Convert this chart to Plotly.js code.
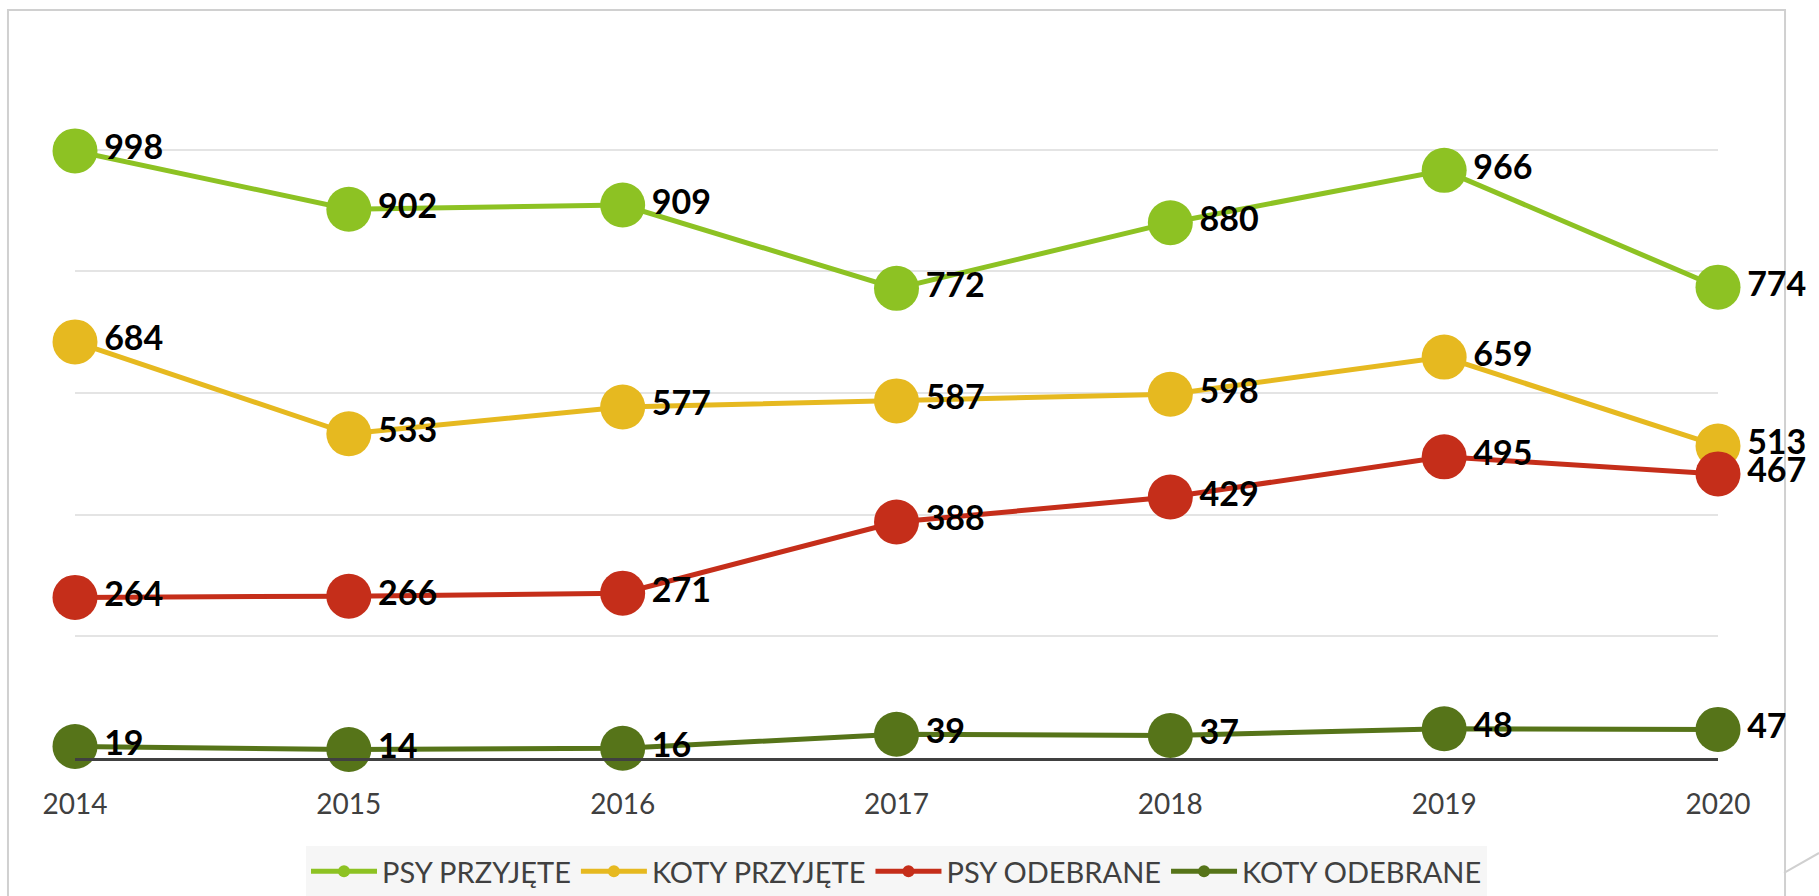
<!DOCTYPE html>
<html>
<head>
<meta charset="utf-8">
<script src="https://cdn.plot.ly/plotly-3.0.1.min.js"></script>
<style>
html,body{margin:0;padding:0;background:#fff;}
#chart{width:1819px;height:896px;}
</style>
</head>
<body>
<div id="chart"></div>
<script>
const years = [2014, 2015, 2016, 2017, 2018, 2019, 2020];
const seriesNames = ["PSY PRZYJĘTE", "KOTY PRZYJĘTE", "PSY ODEBRANE", "KOTY ODEBRANE"];
const psyPrzyjete = [998, 902, 909, 772, 880, 966, 774];
const kotyPrzyjete = [684, 533, 577, 587, 598, 659, 513];
const psyOdebrane = [264, 266, 271, 388, 429, 495, 467];
const kotyOdebrane = [19, 14, 16, 39, 37, 48, 47];
const colors = ["#8dc223", "#e6b920", "#c52e1a", "#567419"];

const allSeries = [psyPrzyjete, kotyPrzyjete, psyOdebrane, kotyOdebrane];

const traces = allSeries.map((vals, i) => ({
  type: "scatter",
  mode: "lines+markers+text",
  name: seriesNames[i],
  x: years,
  y: vals,
  text: vals.map(String),
  textposition: "middle right",
  textfont: {family: "Lato, 'Open Sans', sans-serif", size: 34, color: "#000000", weight: "bold"},
  line: {color: colors[i], width: 5},
  marker: {color: colors[i], size: 45},
  cliponaxis: false,
  hoverinfo: "x+y+name"
}));

const borderColor = "#d0d0d0";
const layout = {
  width: 1819,
  height: 896,
  paper_bgcolor: "#ffffff",
  plot_bgcolor: "#ffffff",
  margin: {l: 75, r: 101, t: 28, b: 138, autoexpand: false},
  showlegend: true,
  font: {family: "Lato, 'Open Sans', sans-serif", color: "#404040"},
  xaxis: {
    range: [2014, 2020],
    tickmode: "array",
    tickvals: years,
    ticktext: years.map(String),
    showgrid: false,
    zeroline: false,
    showline: true,
    linecolor: "#404040",
    linewidth: 3,
    ticks: "",
    ticklabelstandoff: 19,
    tickfont: {family: "Lato, 'Open Sans', sans-serif", size: 28, color: "#404040"},
    fixedrange: true
  },
  yaxis: {
    range: [0, 1200],
    dtick: 200,
    showgrid: true,
    gridcolor: "#e4e4e4",
    gridwidth: 2,
    zeroline: false,
    showline: false,
    showticklabels: false,
    ticks: "",
    fixedrange: true
  },
  legend: {
    orientation: "h",
    x: 0.5,
    xanchor: "center",
    y: -0.1205,
    yanchor: "top",
    bgcolor: "#f6f6f6",
    font: {family: "Lato, 'Open Sans', sans-serif", size: 29, color: "#404040"},
    itemsizing: "constant",
    itemwidth: 66,
    tracegroupgap: 0
  },
  shapes: [
    {type: "rect", xref: "paper", yref: "paper", x0: -0.0408, x1: 1.0408, y0: -0.2, y1: 1.0247,
     line: {color: borderColor, width: 2}, fillcolor: "rgba(0,0,0,0)", layer: "below"},
    {type: "line", xref: "paper", yref: "paper", x0: 1.0402, y0: -0.1575, x1: 1.0615, y1: -0.1301,
     line: {color: borderColor, width: 2}}
  ]
};

Plotly.newPlot("chart", traces, layout, {displayModeBar: false, responsive: false});
</script>
</body>
</html>
